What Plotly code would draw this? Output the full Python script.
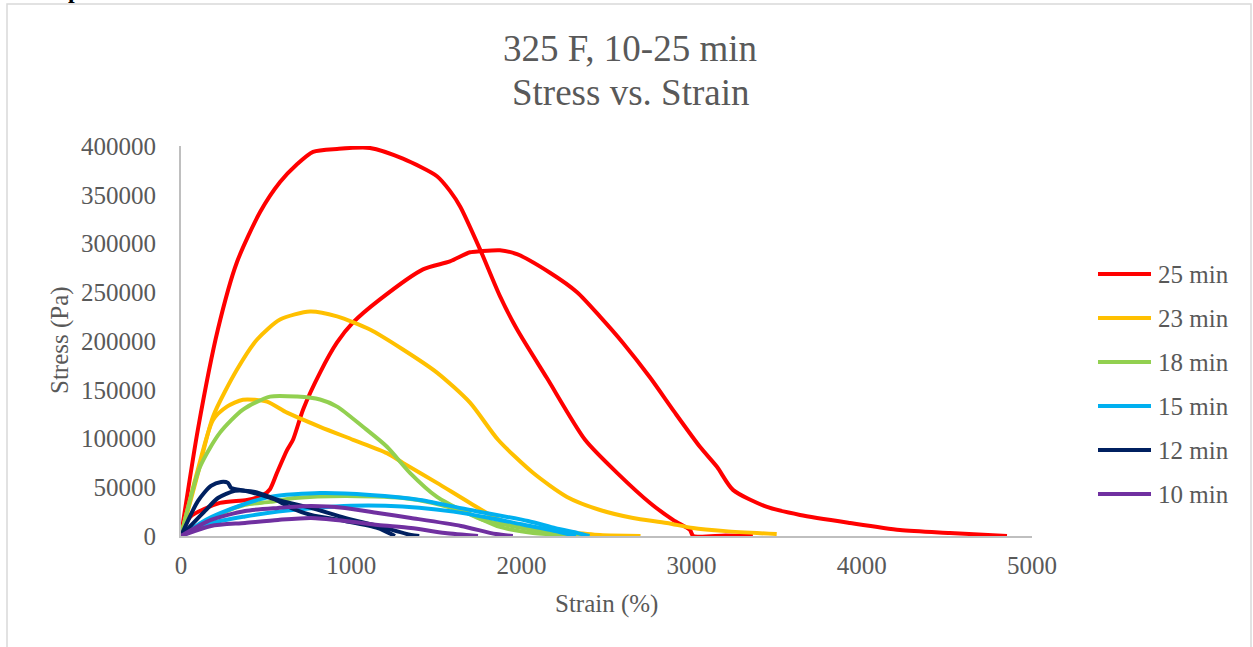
import plotly.graph_objects as go

# ---------------- data ----------------
series_names = ["25 min", "23 min", "18 min", "15 min", "12 min", "10 min"]
series_colors = ["#FF0000", "#FFC000", "#92D050", "#00B0F0", "#002060", "#7030A0"]

# 25 min
strain_25a = [0, 100, 217, 329, 464, 582, 680, 776, 917, 1110, 1304, 1504, 1580, 1640, 1757, 1874, 1974, 2150, 2374, 2562, 2756, 2891, 2990, 3010, 3200, 3360]
stress_25a = [0, 110000, 212000, 281000, 332000, 363000, 381000, 394000, 397000, 398000, 387000, 369000, 354000, 338000, 294000, 246000, 212000, 162000, 98700, 64800, 33900, 16500, 6200, 0, 500, 0]
strain_25b = [0, 53, 229, 388, 482, 523, 564, 623, 658, 717, 817, 917, 1011, 1169, 1422, 1580, 1698, 1757, 1874, 1974, 2168, 2327, 2462, 2597, 2756, 2900, 3049, 3149, 3243, 3443, 3637, 3931, 4224, 4518, 4853]
stress_25b = [0, 19500, 33900, 37000, 42000, 48000, 64800, 88000, 98700, 129600, 167600, 198500, 219000, 242700, 273500, 281600, 291000, 292000, 293000, 289000, 270000, 250000, 225000, 198000, 162500, 127000, 91500, 71000, 47300, 29800, 21600, 13400, 6200, 3100, 0]

# 23 min
strain_23a = [0, 94, 188, 329, 447, 582, 758, 917, 1110, 1304, 1504, 1698, 1863, 2068, 2268, 2462, 2656, 2855, 3008, 3200, 3500]
stress_23a = [0, 60700, 122400, 170700, 201500, 222000, 230300, 225200, 211800, 191300, 167600, 136800, 98700, 64800, 40100, 26700, 18500, 13400, 8200, 5000, 2000]
strain_23b = [0, 94, 188, 270, 364, 505, 623, 817, 1011, 1210, 1304, 1504, 1698, 1874, 2068, 2268, 2462, 2700]
stress_23b = [0, 64800, 119000, 132700, 139800, 137800, 126500, 112000, 98700, 85000, 75000, 54500, 33900, 16500, 8200, 4100, 1000, 0]

# 18 min
strain_18a = [0, 112, 229, 364, 523, 682, 817, 917, 1069, 1210, 1345, 1504, 1680, 1774, 1974, 2168, 2362]
stress_18a = [0, 71000, 106000, 129600, 143000, 143000, 140000, 132700, 112000, 91500, 64800, 40100, 23600, 16500, 9300, 3100, 0]
strain_18b = [0, 200, 376, 523, 670, 964, 1304, 1481, 1680, 1874, 2068, 2400]
stress_18b = [0, 20000, 32000, 35000, 39000, 41100, 39000, 33900, 23600, 9300, 3100, 0]

# 15 min
strain_15a = [0, 150, 329, 523, 817, 1110, 1404, 1698, 2039, 2200, 2333, 2400]
stress_15a = [0, 17000, 30000, 40100, 44000, 42100, 37000, 26700, 15400, 8000, 3000, 0]
strain_15b = [0, 176, 376, 570, 800, 1000, 1200, 1400, 1600, 1800, 2000, 2200, 2320]
stress_15b = [0, 13000, 20000, 25000, 29000, 31000, 31000, 29000, 25000, 19000, 12000, 5000, 0]

# 12 min
strain_12a = [0, 100, 176, 235, 276, 294, 376, 470, 570, 646, 764, 964, 1157, 1257]
stress_12a = [0, 36000, 51400, 55500, 54500, 49400, 46300, 42100, 36000, 28800, 21600, 15400, 8200, 0]
strain_12b = [0, 141, 217, 317, 435, 570, 764, 964, 1157, 1351, 1400]
stress_12b = [0, 25700, 39000, 46300, 45200, 37000, 28800, 18500, 10300, 1000, 0]

# 10 min
strain_10a = [0, 176, 376, 570, 764, 964, 1157, 1351, 1645, 1850, 1950]
stress_10a = [0, 16500, 25700, 28800, 30800, 28800, 23600, 18500, 10300, 2000, 0]
strain_10b = [0, 176, 376, 570, 764, 964, 1157, 1351, 1551, 1745]
stress_10b = [0, 10300, 13400, 16500, 18500, 15400, 11300, 8200, 3100, 0]

curves = [
    [(strain_25a, stress_25a), (strain_25b, stress_25b)],
    [(strain_23a, stress_23a), (strain_23b, stress_23b)],
    [(strain_18a, stress_18a), (strain_18b, stress_18b)],
    [(strain_15a, stress_15a), (strain_15b, stress_15b)],
    [(strain_12a, stress_12a), (strain_12b, stress_12b)],
    [(strain_10a, stress_10a), (strain_10b, stress_10b)],
]

title_line1 = "325 F, 10-25 min"
title_line2 = "Stress vs. Strain"
x_title = "Strain (%)"
y_title = "Stress (Pa)"
page_fragment = "p"

# ---------------- layout geometry ----------------
W, H = 1253, 647
L, R, T, B = 181, 1032, 146, 536
FONT = "Liberation Serif"
TXT = "#595959"


def px(xp):
    return (xp - L) / (R - L)


def py(yp):
    return (B - yp) / (B - T)


fig = go.Figure()
for name, color, pair in zip(series_names, series_colors, curves):
    for xs, ys in pair:
        fig.add_trace(go.Scatter(
            x=xs, y=ys, mode="lines", name=name, legendgroup=name,
            showlegend=False,
            line=dict(color=color, width=4, shape="spline", smoothing=0.7),
            hoverinfo="skip",
        ))

shapes = []
annotations = []

# outer page border
shapes.append(dict(type="rect", xref="paper", yref="paper",
                   x0=px(7), x1=px(1251), y0=py(700), y1=py(4),
                   line=dict(color="#D9D9D9", width=1.5), fillcolor="rgba(0,0,0,0)", layer="below"))

# fragment of document text above the chart (cut off at the top edge)
annotations.append(dict(xref="paper", yref="paper", x=px(67), y=py(4),
                        xanchor="left", yanchor="bottom", showarrow=False, borderpad=0,
                        text="<b>" + page_fragment + "</b>",
                        font=dict(family=FONT, size=24, color="#000000")))

# manual legend
leg_y0 = 274
leg_dy = 44
for i, (name, color) in enumerate(zip(series_names, series_colors)):
    yy = leg_y0 + i * leg_dy
    shapes.append(dict(type="line", xref="paper", yref="paper",
                       x0=px(1098), x1=px(1151), y0=py(yy), y1=py(yy),
                       line=dict(color=color, width=4)))
    annotations.append(dict(xref="paper", yref="paper", x=px(1156), y=py(yy),
                            xanchor="left", yanchor="middle", showarrow=False,
                            text=name, font=dict(family=FONT, size=25, color=TXT)))

# titles
annotations.append(dict(xref="paper", yref="paper", x=px(630), y=py(48),
                        xanchor="center", yanchor="middle", showarrow=False,
                        text=title_line1, font=dict(family=FONT, size=37, color=TXT)))
annotations.append(dict(xref="paper", yref="paper", x=px(630), y=py(92),
                        xanchor="center", yanchor="middle", showarrow=False,
                        text=title_line2, font=dict(family=FONT, size=37, color=TXT)))
annotations.append(dict(xref="paper", yref="paper", x=px(606), y=py(604),
                        xanchor="center", yanchor="middle", showarrow=False,
                        text=x_title, font=dict(family=FONT, size=25, color=TXT)))
annotations.append(dict(xref="paper", yref="paper", x=px(60), y=py(340),
                        xanchor="center", yanchor="middle", showarrow=False, textangle=-90,
                        text=y_title, font=dict(family=FONT, size=25, color=TXT)))

fig.update_layout(
    width=W, height=H,
    margin=dict(l=L, r=W - R, t=T, b=H - B, pad=0),
    paper_bgcolor="white", plot_bgcolor="white",
    showlegend=False,
    shapes=shapes, annotations=annotations,
    font=dict(family=FONT, color=TXT),
)
fig.update_xaxes(range=[0, 5000], dtick=1000, tick0=0, showgrid=False, zeroline=False,
                 showline=True, linecolor="#BFBFBF", linewidth=2, ticks="",
                 tickfont=dict(family=FONT, size=25, color=TXT), ticklabelstandoff=6,
                 tickformat="d")
fig.update_yaxes(range=[0, 400000], dtick=50000, tick0=0, showgrid=False, zeroline=False,
                 showline=True, linecolor="#BFBFBF", linewidth=2, ticks="",
                 tickfont=dict(family=FONT, size=25, color=TXT), ticklabelstandoff=18,
                 tickformat="d")

fig.write_html("out.html")
